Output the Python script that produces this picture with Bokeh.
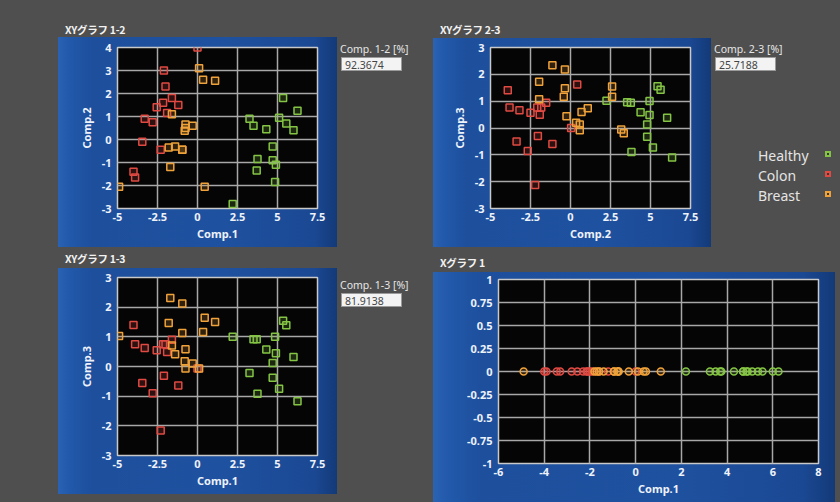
from bokeh.plotting import figure
from bokeh.models import Range1d, FixedTicker, CustomJSTickFormatter, Div, Spacer, Row, Column
from bokeh.embed import file_html
from bokeh.resources import INLINE

# ---------------- data ----------------
# PCA scores: Comp.1 / Comp.2 / Comp.3 per class
healthy_c1 = [2.2, 3.25, 3.5, 3.7, 3.75, 4.3, 4.7, 4.7, 4.85, 4.9, 5.1, 5.35, 5.55, 6.0, 6.25]
healthy_c2 = [-2.8, 0.9, 0.6, -1.35, -0.85, 0.45, -0.3, -0.9, -1.85, -1.1, 0.95, 1.8, 0.7, 0.4, 1.25]
healthy_c3 = [1.0, -0.22, 0.92, 0.92, -0.92, 0.57, 0.12, -0.38, 1.0, 0.45, -0.75, 1.54, 1.39, 0.32, -1.17]

colon_c1 = [-4.0, -3.9, -3.3, -3.45, -2.8, -2.55, -2.15, -2.0, -1.9, -2.1, -2.3, -1.2, -1.6, 0.0]
colon_c2 = [-1.4, -1.65, 0.9, -0.1, 0.75, 1.4, 1.6, 2.3, 1.15, 3.0, -0.45, 1.5, 1.8, 4.0]
colon_c3 = [1.4, 0.75, 0.62, -0.56, -0.9, 0.55, 0.75, 0.75, 0.49, -0.31, -2.16, -0.64, 0.9, -0.07]

breast_c1 = [0.1, 0.35, 1.1, -1.6, -0.75, -0.75, -0.8, -0.3, -1.8, -1.4, -0.95, -1.7, -4.9, 0.45, -0.95]
breast_c2 = [3.1, 2.6, 2.55, 1.1, 0.65, 0.5, 0.38, 0.6, -0.35, -0.3, -0.45, -1.2, -2.05, -2.05, -0.45]
breast_c3 = [-0.07, 1.16, 1.5, 0.71, 0.58, -0.07, 0.18, 0.1, 1.47, 0.41, 1.13, 2.31, 1.03, 1.64, 2.12]

# XY graph 2-3 as displayed
healthy_x23 = [2.25, 3.54, 3.77, 4.94, 5.44, 5.63, 4.38, 4.94, 4.79, 6.04, 4.79, 5.15, 3.81, 6.35]
healthy_y23 = [1.02, 0.96, 0.94, 1.01, 1.56, 1.43, 0.59, 0.48, 0.13, 0.38, -0.33, -0.73, -0.89, -1.1]
colon_x23 = [-3.92, -3.81, -3.19, -2.5, -2.08, -1.83, -1.52, -1.92, -3.37, -2.67, -2.04, -1.13, -2.21, 0.42, 0.04]
colon_y23 = [1.41, 0.76, 0.66, 0.57, 0.76, 0.76, 0.94, 0.49, -0.5, -0.86, -0.3, -0.6, -2.12, 1.62, 0.0]
breast_x23 = [-1.13, -0.35, -1.96, -0.35, -0.42, -1.96, 2.6, 2.6, 0.69, 1.08, -0.25, 0.35, 0.58, 0.58, 3.17, 3.33]
breast_y23 = [2.34, 2.18, 1.72, 1.48, 1.16, 1.07, 1.55, 1.16, 0.6, 0.74, 0.44, 0.2, 0.13, -0.08, -0.06, -0.2]

classes = ["Healthy", "Colon", "Breast"]
percent_12 = "92.3674"
percent_23 = "25.7188"
percent_13 = "81.9138"

ticks_x_xy = [-5, -2.5, 0, 2.5, 5, 7.5]
ticks_y_12 = [-3, -2, -1, 0, 1, 2, 3, 4]
ticks_y_3 = [-3, -2, -1, 0, 1, 2, 3]
ticks_x_x1 = [-6, -4, -2, 0, 2, 4, 6, 8]
ticks_y_x1 = [-1, -0.75, -0.5, -0.25, 0, 0.25, 0.5, 0.75, 1]

# ---------------- style ----------------
BG = "#4f4f4f"
GREEN = "#84c444"
RED = "#e04a42"
ORANGE = "#f0a23a"
COLORS = {"Healthy": GREEN, "Colon": RED, "Breast": ORANGE}
LABEL_FONT = "Noto Sans"
TICK_COLOR = "#eef2fa"
BLUE_GRAD = ("linear-gradient(to right, #2a62b4 0%, #2259aa 4%, #1d4f9d 12%, "
             "#1e519f 60%, #1b4893 92%, #133a78 100%)")


def make_panel(w, h, xr, yr, xticks, yticks, borders, xlabel, ylabel):
    left, right, top, bottom = borders
    p = figure(width=w, height=h, x_range=Range1d(*xr), y_range=Range1d(*yr),
               output_backend="svg", toolbar_location=None,
               min_border_left=left, min_border_right=right,
               min_border_top=top, min_border_bottom=bottom)
    p.styles = {"background": BLUE_GRAD}
    p.border_fill_color = None
    p.background_fill_color = "#050505"
    p.outline_line_color = "#c9c9c9"
    p.outline_line_width = 1.5
    fmt = CustomJSTickFormatter(code="return tick.toString();")
    xt = FixedTicker(ticks=xticks)
    yt = FixedTicker(ticks=yticks)
    p.xaxis.ticker = xt
    p.yaxis.ticker = yt
    p.xgrid.ticker = xt
    p.ygrid.ticker = yt
    for ax in (p.xaxis[0], p.yaxis[0]):
        ax.formatter = fmt
        ax.axis_line_color = None
        ax.major_tick_line_color = None
        ax.minor_tick_line_color = None
        ax.major_tick_out = 0
        ax.major_tick_in = 0
        ax.major_label_text_color = TICK_COLOR
        ax.major_label_text_font = LABEL_FONT
        ax.major_label_text_font_size = "11px"
        ax.major_label_text_font_style = "bold"
        ax.axis_label_text_color = TICK_COLOR
        ax.axis_label_text_font = LABEL_FONT
        ax.axis_label_text_font_size = "11px"
        ax.axis_label_text_font_style = "bold"
    p.xaxis.major_label_standoff = 4
    p.xaxis.axis_label_standoff = 2
    p.yaxis.major_label_standoff = 6
    p.yaxis.axis_label_standoff = 5
    if xlabel:
        p.xaxis.axis_label = xlabel
    if ylabel:
        p.yaxis.axis_label = ylabel
    for g in (p.xgrid[0], p.ygrid[0]):
        g.grid_line_color = "#a8a8a8"
        g.grid_line_width = 1.5
    return p


def squares(p, xs, ys, color):
    p.scatter(xs, ys, marker="square", size=7, line_color=color, line_width=1.5,
              fill_color=color, fill_alpha=0.18)


def title_div(text, w, h, pad):
    return Div(text=(f'<div style="font-family:\'Noto Sans CJK JP\';font-size:10.5px;'
                     f'font-weight:bold;color:#f2f2f2;line-height:{h}px;padding-left:{pad}px;'
                     f'white-space:nowrap;letter-spacing:-0.3px">{text}</div>'),
               width=w, height=h, margin=0)


def value_divs(label, val, w):
    lab = Div(text=(f'<div style="font-family:\'{LABEL_FONT}\';font-size:10.5px;color:#e6e6e6;'
                    f'line-height:15px;padding-left:3px;white-space:nowrap">{label}</div>'),
              width=w, height=15, margin=0)
    box = Div(text=(f'<div style="margin-left:4px;margin-top:1px;width:61px;height:14px;'
                    f'background:#f3f3f3;border:1px solid #9a9a9a;font-family:\'{LABEL_FONT}\';'
                    f'font-size:10.5px;color:#444;line-height:14px;padding-left:3px">{val}</div>'),
              width=w, height=17, margin=0)
    return lab, box


# ---------------- panel XY 1-2 ----------------
p12 = make_panel(279, 210, (-5, 7.5), (-3, 4), ticks_x_xy, ticks_y_12,
                 (59, 20, 10, 39), "Comp.1", "Comp.2")
squares(p12, healthy_c1, healthy_c2, GREEN)
squares(p12, colon_c1, colon_c2, RED)
squares(p12, breast_c1, breast_c2, ORANGE)

# ---------------- panel XY 2-3 ----------------
p23 = make_panel(278, 209, (-5, 7.5), (-3, 3), ticks_x_xy, ticks_y_3,
                 (57, 21, 9, 39), "Comp.2", "Comp.3")
squares(p23, healthy_x23, healthy_y23, GREEN)
squares(p23, colon_x23, colon_y23, RED)
squares(p23, breast_x23, breast_y23, ORANGE)

# ---------------- panel XY 1-3 ----------------
p13 = make_panel(279, 226, (-5, 7.5), (-3, 3), ticks_x_xy, ticks_y_3,
                 (59, 20, 9, 39), "Comp.1", "Comp.3")
squares(p13, healthy_c1, healthy_c3, GREEN)
squares(p13, colon_c1, colon_c3, RED)
squares(p13, breast_c1, breast_c3, ORANGE)

# ---------------- panel X 1 ----------------
px1 = make_panel(402, 230, (-6, 8), (-1, 1), ticks_x_x1, ticks_y_x1,
                 (65, 17, 7, 39), "Comp.1", None)
for xs, col in ((healthy_c1, GREEN), (colon_c1, RED), (breast_c1, ORANGE)):
    px1.scatter(xs, [0] * len(xs), marker="circle", size=7, line_color=col, line_width=1.5,
                fill_color=col, fill_alpha=0.18)

# ---------------- legend ----------------
rows_html = ""
for i, name in enumerate(classes):
    cy = 10 + 20 * i
    col = COLORS[name]
    rows_html += (f'<div style="position:absolute;left:47px;top:{cy - 10}px;height:20px;'
                  f'line-height:20px;font-family:\'{LABEL_FONT}\';font-size:14px;color:#e4e4e4">{name}</div>'
                  f'<div style="position:absolute;left:114px;top:{cy - 5}px;width:6px;height:6px;'
                  f'border:2px solid {col};background:rgba(0,0,0,0.3)"></div>')
legend = Div(text=f'<div style="position:relative;width:129px;height:62px">{rows_html}</div>',
             width=129, height=62, margin=0)

# ---------------- layout (absolute page coordinates, body margin 0) ----------------
lab12, box12 = value_divs("Comp. 1-2 [%]", percent_12, 96)
lab23, box23 = value_divs("Comp. 2-3 [%]", percent_23, 129)
lab13, box13 = value_divs("Comp. 1-3 [%]", percent_13, 96)

colA = Column(children=[Spacer(width=279, height=22), title_div("XYグラフ 1-2", 279, 15, 7), p12],
              spacing=0)
colB = Column(children=[Spacer(width=96, height=41), lab12, box12], spacing=0)
colC = Column(children=[Spacer(width=278, height=22), title_div("XYグラフ 2-3", 278, 16, 7), p23],
              spacing=0)
colD = Column(children=[Spacer(width=129, height=41), lab23, box23, Spacer(width=129, height=73), legend],
              spacing=0)
row1 = Row(children=[Spacer(width=58, height=10), colA, colB, colC, colD], spacing=0)

colE = Column(children=[Spacer(width=279, height=4), title_div("XYグラフ 1-3", 279, 15, 7),
                        Spacer(width=279, height=2), p13], spacing=0)
colF = Column(children=[Spacer(width=96, height=30), lab13, box13], spacing=0)
colG = Column(children=[Spacer(width=402, height=8), title_div("Xグラフ 1", 402, 15, 7),
                        Spacer(width=402, height=2), px1], spacing=0)
row2 = Row(children=[Spacer(width=58, height=10), colE, colF, colG], spacing=0)

root = Column(children=[row1, row2], spacing=0)

html = file_html(root, INLINE, title="PCA XY graphs")
html = html.replace("</head>",
                    f"<style>html,body{{background:{BG};margin:0;padding:0;overflow:hidden;}}</style></head>", 1)
open("out.html", "w").write(html)
